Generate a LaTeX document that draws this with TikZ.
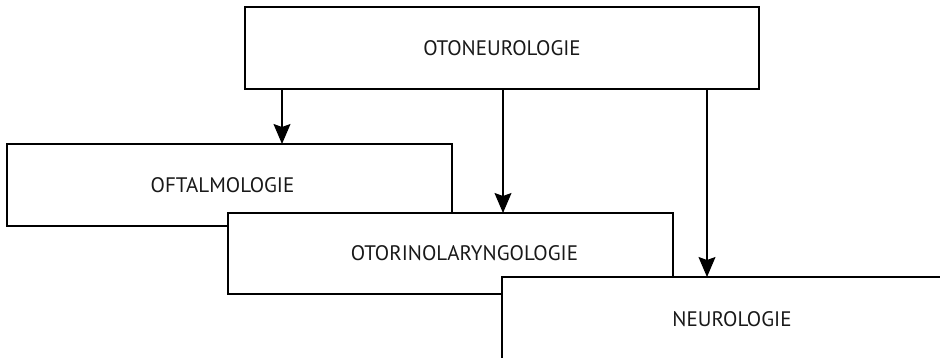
\documentclass[tikz,border=0pt]{standalone}
\usepackage{fontspec}
\setmainfont{PT Sans}
\usetikzlibrary{positioning,arrows.meta}
\tikzset{B node/.style={rectangle,fill=white,draw,line width=2pt,anchor=north west,inner sep=0pt,outer sep=0pt,font=\fontsize{21}{25}\selectfont,text=black!90},
	B arrow/.style={line width=1.1pt,-{Stealth[length=20pt,width=17pt,inset=3pt]}},}

\begin{document}
\begin{tikzpicture}[x=1pt,y=-1pt]
			\clip (0,0) rectangle (940,358);
			\fill[white] (0,0) rectangle (940,358);

			\node[B node,minimum width=514pt,minimum height=82pt] (oto) at (245,7) {OTONEUROLOGIE};
			\node[B node,minimum width=445pt,minimum height=82pt] (oft) at (7,144) {\hspace*{-14pt}OFTALMOLOGIE};
			\node[B node,minimum width=445pt,minimum height=81pt] (orl) at (228,213) {\hspace*{28pt}OTORINOLARYNGOLOGIE};
			\node[B node,minimum width=460pt,minimum height=84pt] (neu) at (502,277) {NEUROLOGIE};

			\draw[B arrow] ([xshift=37]oto.south west) -- ([xshift=37]oto.south west |- oft.north);
			\draw[B arrow] ([xshift=258]oto.south west) -- ([xshift=258]oto.south west |- orl.north);
			\draw[B arrow] ([xshift=462]oto.south west) -- ([xshift=462]oto.south west |- neu.north);
		\end{tikzpicture}
\end{document}
